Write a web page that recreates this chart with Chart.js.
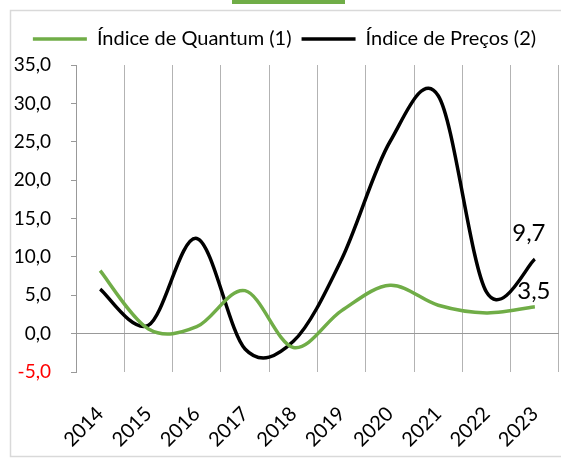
<!DOCTYPE html>
<html>
<head>
<meta charset="utf-8">
<script src="https://cdn.jsdelivr.net/npm/chart.js@4.4.1/dist/chart.umd.min.js"></script>
<style>
  html, body { margin: 0; padding: 0; background: #fff; }
  #wrap { width: 561px; height: 458px; }
</style>
</head>
<body>
<div id="wrap"><canvas id="grafico"></canvas></div>
<script>
const anos = ['2014', '2015', '2016', '2017', '2018', '2019', '2020', '2021', '2022', '2023'];
const quantum = [8.2, 0.6, 0.9, 5.6, -1.8, 3.0, 6.3, 3.7, 2.7, 3.5];
const precos = [5.8, 1.1, 12.4, -2.0, -1.0, 9.7, 25.0, 31.0, 5.4, 9.7];
const nomes = ['Índice de Quantum (1)', 'Índice de Preços (2)'];
const cores = ['#70ad47', '#000000'];

function fmt(v) {
    return v.toFixed(1).replace('.', ',');
}

// moldura cinza e barra verde do topo
const moldura = {
    id: 'moldura',
    beforeDraw(chart) {
        const c = chart.ctx;
        c.save();
        c.fillStyle = '#70ad47';
        c.fillRect(232, 0, 113, 4);
        c.strokeStyle = '#d9d9d9';
        c.lineWidth = 1.5;
        c.strokeRect(10.5, 10.5, 600, 446);
        c.restore();
    }
};

// um pouco mais de espaço abaixo da legenda
const espacoLegenda = {
    id: 'espacoLegenda',
    beforeLayout(chart) {
        const leg = chart.legend;
        if (leg && !leg._extra) {
            const fitOrig = leg.fit;
            leg.fit = function() {
                fitOrig.call(this);
                this.height += 6;
            };
            leg._extra = true;
        }
    }
};

// suavização tipo Excel (Catmull-Rom uniforme) a partir dos pontos da escala
const suave = {
    id: 'suave',
    beforeDatasetDraw(chart, args) {
        const meta = args.meta;
        const pts = meta.data;
        meta.dataset.updateControlPoints(chart.chartArea, 'x');
        for (let i = 0; i < pts.length; i++) {
            const p = pts[i];
            const prev = pts[i - 1] || p;
            const next = pts[i + 1] || p;
            const dx = (next.x - prev.x) / 6;
            const dy = (next.y - prev.y) / 6;
            p.cp1x = p.x - dx;
            p.cp1y = p.y - dy;
            p.cp2x = p.x + dx;
            p.cp2y = p.y + dy;
        }
        meta.dataset._pointsUpdated = true;
    }
};

// rótulo do último ponto de cada série
const rotulos = {
    id: 'rotulos',
    afterDatasetsDraw(chart) {
        const c = chart.ctx;
        c.save();
        c.font = '24px Lato';
        c.fillStyle = '#000';
        c.textAlign = 'center';
        c.textBaseline = 'bottom';
        chart.data.datasets.forEach(function(ds, i) {
            const meta = chart.getDatasetMeta(i);
            const last = meta.data[meta.data.length - 1];
            const v = ds.data[ds.data.length - 1];
            if (i == 1) {
                c.fillText(fmt(v), last.x - 6, last.y - 14);
            } else {
                c.fillText(fmt(v), last.x - 1, last.y - 3);
            }
        });
        c.restore();
    }
};

const ctx = document.getElementById('grafico').getContext('2d');
const chart = new Chart(ctx, {
    type: 'line',
    data: {
        labels: anos,
        datasets: [{
            label: nomes[0],
            data: quantum,
            borderColor: cores[0],
            backgroundColor: cores[0],
            borderWidth: 3.5,
            pointRadius: 0,
            tension: 0.4
        }, {
            label: nomes[1],
            data: precos,
            borderColor: cores[1],
            backgroundColor: cores[1],
            borderWidth: 3.5,
            pointRadius: 0,
            tension: 0.4
        }]
    },
    options: {
        responsive: true,
        maintainAspectRatio: false,
        animation: false,
        layout: {
            padding: { left: 10, right: 2, top: 19, bottom: 6 }
        },
        scales: {
            x: {
                offset: true,
                grid: {
                    offset: true,
                    color: '#b3b3b3',
                    lineWidth: 1,
                    drawTicks: false
                },
                border: { display: false },
                ticks: {
                    color: '#000',
                    font: { family: 'Lato', size: 20 },
                    maxRotation: 45,
                    minRotation: 45,
                    padding: 30
                },
                afterFit: function(scale) {
                    scale.height = 80;
                    scale.paddingLeft = 0;
                    scale.paddingRight = 0;
                }
            },
            y: {
                min: -5,
                max: 35,
                grid: {
                    color: function(c) { return c.tick && c.tick.value === 0 ? '#999999' : 'transparent'; },
                    tickColor: '#999999',
                    tickLength: 5
                },
                border: { color: '#999999' },
                ticks: {
                    stepSize: 5,
                    padding: 20,
                    font: { family: 'Lato', size: 19 },
                    color: function(c) { return c.tick.value < 0 ? '#ff0000' : '#000'; },
                    callback: function(value) { return fmt(value); }
                },
                afterFit: function(scale) { scale.width = 66; }
            }
        },
        plugins: {
            legend: {
                position: 'top',
                labels: {
                    usePointStyle: true,
                    pointStyle: 'line',
                    pointStyleWidth: 54,
                    color: '#000',
                    font: { family: 'Lato', size: 20 },
                    padding: 10
                }
            },
            tooltip: { enabled: false }
        }
    },
    plugins: [moldura, espacoLegenda, suave, rotulos]
});
</script>
</body>
</html>
